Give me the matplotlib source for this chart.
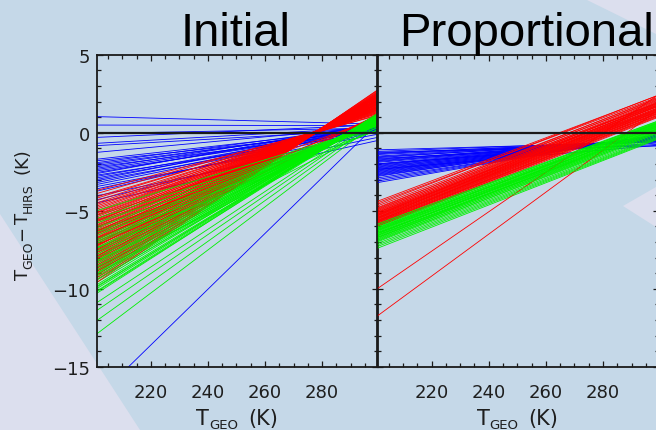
import matplotlib
matplotlib.use('Agg')
import matplotlib.pyplot as plt
from matplotlib.patches import Polygon
from matplotlib.ticker import MultipleLocator, FixedLocator
from matplotlib.transforms import IdentityTransform

# ---------------- data ----------------
X_ENDS = [201.0, 299.5]          # T_GEO range of each fitted line
XTICKS = [220, 240, 260, 280]
TITLES = ['Initial', 'Proportional']

# Initial panel: value at left end / right end of each line
BLUE_INIT_L = [1.03, 0.49, -0.05, -0.30, -0.68, -0.83, -1.26, -1.70, -1.80, -1.92,
               -2.00, -2.10, -2.18, -2.28, -2.36, -2.45, -2.55, -2.62, -2.72, -2.80,
               -2.90, -3.00, -3.08, -3.20, -3.32, -3.45, -3.60, -3.75, -4.05, -4.30,
               -4.50, -17.0]
BLUE_INIT_R = [0.55, 0.45, 0.30, 0.50, 0.35, 0.20, 0.40, 0.30, 0.15, 0.45,
               0.25, 0.35, 0.10, 0.50, 0.30, 0.20, 0.40, 0.60, 0.05, 0.35,
               0.25, 0.50, 0.15, 0.40, 0.30, -0.10, 0.20, 0.45, -0.30, 0.10,
               -0.50, 0.60]
RED_INIT_L = [-3.70, -3.90, -4.10, -4.20, -4.35, -4.50, -4.60, -4.70, -4.80, -4.90,
              -5.00, -5.10, -5.15, -5.25, -5.30, -5.40, -5.50, -5.55, -5.65, -5.70,
              -5.80, -5.90, -5.95, -6.05, -6.10, -6.20, -6.30, -6.35, -6.45, -6.50,
              -6.60, -6.70, -6.75, -6.85, -6.90, -7.00, -7.10, -7.15, -7.25, -7.30,
              -7.40, -7.50, -7.55, -7.65, -7.70, -7.80, -7.90, -7.95, -8.05, -8.10,
              -8.20, -8.30, -8.40, -8.50, -8.60, -8.70, -8.80, -8.90, -9.00, -9.15,
              -9.30, -9.45, -9.60, -6.40, -7.20, -8.00, -5.60, -6.80]
RED_INIT_R = [1.10, 1.22, 1.15, 1.30, 1.24, 1.38, 1.30, 1.45, 1.36, 1.50,
              1.42, 1.55, 1.47, 1.60, 1.50, 1.63, 1.55, 1.68, 1.60, 1.72,
              1.64, 1.78, 1.68, 1.82, 1.72, 1.86, 1.78, 1.90, 1.82, 1.95,
              1.86, 2.00, 1.90, 2.04, 1.95, 2.08, 2.00, 2.12, 2.04, 2.16,
              2.08, 2.22, 2.12, 2.26, 2.16, 2.30, 2.22, 2.34, 2.26, 2.38,
              2.30, 2.44, 2.36, 2.48, 2.40, 2.54, 2.46, 2.60, 2.52, 2.66,
              2.60, 2.72, 2.75, 1.00, 1.05, 1.15, 0.95, 1.10]
GREEN_INIT_L = [-5.00, -5.30, -5.50, -5.70, -5.80, -6.00, -6.10, -6.25, -6.40, -6.50,
                -6.60, -6.75, -6.85, -7.00, -7.10, -7.20, -7.35, -7.45, -7.60, -7.70,
                -7.80, -7.90, -8.00, -8.10, -8.20, -8.30, -8.40, -8.50, -8.60, -8.70,
                -8.80, -8.90, -9.00, -9.10, -9.20, -9.30, -9.45, -9.60, -9.75, -9.90,
                -10.00, -10.15, -10.30, -10.90, -11.40, -12.05, -12.90, -6.30, -7.40, -8.85,
                -6.95, -7.55, -8.25, -8.65, -9.05, -9.40, -9.85, -10.20]
GREEN_INIT_R = [0.45, 0.30, 0.50, 0.40, 0.55, 0.45, 0.60, 0.50, 0.65, 0.55,
                0.70, 0.60, 0.75, 0.65, 0.80, 0.70, 0.85, 0.75, 0.90, 0.80,
                0.95, 0.85, 0.95, 0.90, 1.00, 0.90, 1.05, 0.95, 1.05, 1.00,
                1.10, 1.00, 1.10, 1.05, 1.15, 1.10, 1.15, 1.20, 1.10, 1.20,
                1.15, 1.20, 1.25, 1.00, 0.90, 0.80, 0.70, 0.15, 0.20, 0.35,
                0.50, 0.60, 0.70, 0.80, 0.85, 0.95, 1.05, 1.10]

# Proportional panel
BLUE_PROP_L = [-1.10, -1.20, -1.30, -1.35, -1.40, -1.50, -1.55, -1.60, -1.70, -1.75,
               -1.80, -1.85, -1.90, -2.00, -2.05, -2.10, -2.15, -2.20, -2.25, -2.30,
               -2.35, -2.40, -2.45, -2.50, -2.55, -2.60, -2.65, -2.70, -2.75, -2.80,
               -2.90, -3.00, -3.10, -3.20, -1.25, -1.65, -2.00, -2.35]
BLUE_PROP_R = [-0.60, -0.52, -0.58, -0.48, -0.55, -0.45, -0.52, -0.42, -0.48, -0.40,
               -0.46, -0.36, -0.44, -0.34, -0.40, -0.30, -0.38, -0.28, -0.36, -0.26,
               -0.33, -0.24, -0.30, -0.22, -0.28, -0.20, -0.26, -0.18, -0.24, -0.16,
               -0.20, -0.14, -0.12, -0.10, -0.85, -0.75, -0.65, -0.80]
RED_PROP_L = [-4.40, -4.50, -4.60, -4.70, -4.80, -4.85, -4.90, -4.95, -5.00, -5.05,
              -5.10, -5.12, -5.15, -5.20, -5.22, -5.25, -5.30, -5.32, -5.35, -5.40,
              -5.42, -5.45, -5.50, -5.52, -5.55, -5.60, -5.62, -5.65, -5.70, -5.72,
              -5.75, -5.80, -5.82, -5.85, -5.90, -5.95, -6.00, -5.28, -5.48, -5.68,
              -10.00, -11.75]
RED_PROP_R = [2.40, 2.30, 2.42, 2.20, 2.10, 2.25, 1.95, 2.15, 1.90, 2.05,
              1.80, 1.95, 1.70, 1.85, 1.60, 1.80, 1.55, 1.75, 1.50, 1.70,
              1.45, 1.62, 1.40, 1.55, 1.35, 1.50, 1.28, 1.42, 1.22, 1.38,
              1.15, 1.30, 1.10, 1.25, 1.05, 1.15, 1.00, 2.00, 1.90, 1.75,
              2.45, 1.50]
GREEN_PROP_L = [-5.85, -5.90, -5.95, -6.00, -6.05, -6.10, -6.12, -6.15, -6.20, -6.25,
                -6.28, -6.30, -6.35, -6.40, -6.42, -6.45, -6.50, -6.55, -6.58, -6.60,
                -6.65, -6.70, -6.75, -6.80, -6.85, -6.90, -6.95, -7.00, -7.10, -7.20,
                -7.30, -7.41, -6.22, -6.48, -6.72]
GREEN_PROP_R = [0.77, 0.70, 0.75, 0.62, 0.68, 0.55, 0.62, 0.50, 0.58, 0.42,
                0.52, 0.38, 0.45, 0.30, 0.40, 0.25, 0.35, 0.18, 0.28, 0.12,
                0.22, 0.05, 0.15, -0.02, 0.08, -0.10, 0.00, -0.18, -0.25, -0.30,
                -0.35, -0.40, 0.65, 0.48, 0.30]

# ---------------- figure ----------------
W, H = 656, 431
BG = '#c5d8e8'
LAV = '#dcdfee'
TXT = '#1e1e1e'
fig = plt.figure(figsize=(W / 100, H / 100), dpi=100)
fig.patch.set_facecolor(BG)


def fp(x, y):
    return (x / W, 1 - y / H)


shapes = [
    [(0, 215), (140, 431), (0, 431)],
    [(585, 0), (656, 0), (656, 35)],
    [(623, 207), (656, 188), (656, 228)],
]
for pts in shapes:
    fig.patches.append(Polygon([fp(*p) for p in pts], closed=True,
                               transform=fig.transFigure, facecolor=LAV,
                               edgecolor='none', zorder=-5))

ax1 = fig.add_axes([96.7 / W, 1 - 367.7 / H, 281.0 / W, 312.0 / H])
ax2 = fig.add_axes([377.3 / W, 1 - 367.7 / H, 281.4 / W, 312.0 / H])

SPINE = '#1a1a1a'
for ax in (ax1, ax2):
    ax.set_facecolor('none')
    ax.set_xlim(X_ENDS[0], X_ENDS[1])
    ax.set_ylim(-15, 5)
    ax.xaxis.set_major_locator(FixedLocator(XTICKS))
    ax.xaxis.set_minor_locator(MultipleLocator(5))
    ax.yaxis.set_major_locator(MultipleLocator(5))
    ax.yaxis.set_minor_locator(MultipleLocator(1))
    ax.tick_params(which='both', direction='in', top=True, right=True,
                   color=SPINE, width=0.9)
    ax.tick_params(which='major', length=4.5)
    ax.tick_params(which='minor', length=3.0)
    ax.tick_params(axis='x', labelsize=13, pad=12, labelcolor=TXT)
    ax.tick_params(axis='y', labelsize=13, pad=5, labelcolor=TXT)
    for s in ax.spines.values():
        s.set_color(SPINE)
        s.set_linewidth(1.3)
ax2.tick_params(axis='y', labelleft=False)

LW = 0.6
BLUE, RED, GREEN = '#0000ff', '#ff0000', '#00f000'


def draw(ax, bl, br, rl, rr, gl, gr):
    for a, b in zip(bl, br):
        ax.plot(X_ENDS, [a, b], color=BLUE, lw=LW, zorder=2)
    # half of the green lines beneath the red ones, half above
    for i, (a, b) in enumerate(zip(gl, gr)):
        if i % 2:
            ax.plot(X_ENDS, [a, b], color=GREEN, lw=LW, zorder=2)
    for a, b in zip(rl, rr):
        ax.plot(X_ENDS, [a, b], color=RED, lw=LW, zorder=2)
    for i, (a, b) in enumerate(zip(gl, gr)):
        if not i % 2:
            ax.plot(X_ENDS, [a, b], color=GREEN, lw=LW, zorder=2)
    ax.axhline(0, color=SPINE, lw=1.6, zorder=5)


draw(ax1, BLUE_INIT_L, BLUE_INIT_R, RED_INIT_L, RED_INIT_R, GREEN_INIT_L, GREEN_INIT_R)
draw(ax2, BLUE_PROP_L, BLUE_PROP_R, RED_PROP_L, RED_PROP_R, GREEN_PROP_L, GREEN_PROP_R)

# titles
for cx, t in zip([235.5, 526.5], TITLES):
    fig.text(cx / W, 1 - 45.7 / H, t, fontsize=34, family='Liberation Sans',
             ha='center', va='baseline', color='black')

# axis labels composed of pieces (big letters, small lowered subscripts)
renderer = fig.canvas.get_renderer()


def compose(center, base, parts, rot=0):
    """center/base in image pixels (y measured from top); parts: (text, size, drop_px, gap_px)."""
    arts, lens = [], []
    for txt, size, drop, gap in parts:
        t = fig.text(0, 0, txt, fontsize=size, transform=IdentityTransform(),
                     rotation=rot, rotation_mode='anchor', ha='left', va='baseline',
                     color=TXT)
        bb = t.get_window_extent(renderer)
        ln = bb.height if rot else bb.width
        arts.append(t)
        lens.append(ln + gap)
    total = sum(lens) - parts[-1][3]
    if rot:
        pos = (H - center) - total / 2
        for t, (txt, size, drop, gap), ln in zip(arts, parts, lens):
            t.set_position((base + drop, pos))
            pos += ln
    else:
        pos = center - total / 2
        for t, (txt, size, drop, gap), ln in zip(arts, parts, lens):
            t.set_position((pos, H - base - drop))
            pos += ln


XL_PARTS = [('T', 15, 0, 0), ('GEO', 9.5, 4.5, 10), ('(K)', 15, 0, 0)]
compose(237.0, 425.0, XL_PARTS)
compose(517.5, 425.0, XL_PARTS)
YL_PARTS = [('T', 13, 0, 0), ('GEO', 9, 4.5, 1), ('\u2212', 13, 0, 1), ('T', 13, 0, 0),
            ('HIRS', 9, 4.5, 10), ('(K)', 13, 0, 0)]
compose(214.0, 27.5, YL_PARTS, rot=90)

fig.savefig('out.png', dpi=100, facecolor=BG)
